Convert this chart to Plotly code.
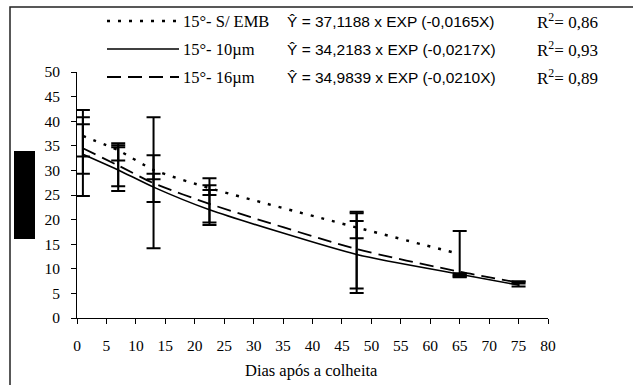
import plotly.graph_objects as go

# ---------------- data ----------------
labels = ["15°- S/ EMB", "15°- 10µm", "15°- 16µm"]
equations = ["Ŷ = 37,1188 x EXP (-0,0165X)",
             "Ŷ = 34,2183 x EXP (-0,0217X)",
             "Ŷ = 34,9839 x EXP (-0,0210X)"]
r2_values = ["0,86", "0,93", "0,89"]

# observed means with error bars
days_semb = [1, 7, 13, 22.5, 47.5, 65]
mean_semb = [36.8, 33.35, 28.75, 26.7, 17.95, 13.05]
err_semb = [4.0, 1.35, 0.55, 1.7, 1.75, 4.65]

days_10 = [1, 7, 13, 22.5, 47.5, 65, 75]
mean_10 = [33.55, 30.45, 27.5, 22.45, 13.35, 8.5, 6.9]
err_10 = [8.75, 4.65, 13.3, 3.55, 8.25, 0.2, 0.5]

days_16 = [1, 7, 13, 22.5, 47.5, 65, 75]
mean_16 = [34.35, 31.15, 28.35, 23.2, 13.65, 8.9, 7.2]
err_16 = [5.05, 4.35, 4.75, 3.8, 7.65, 0.2, 0.2]

# fitted curves
fit_days_semb = [1, 7, 13, 22.5, 47.5, 64]
fit_semb = [37.0, 34.1, 30.1, 26.4, 18.4, 13.3]
fit_days_10 = [1, 7, 13, 22.5, 47.5, 65, 75]
fit_10 = [33.3, 30.1, 26.6, 22.0, 12.9, 8.9, 6.7]
fit_days_16 = [1, 7, 13, 22.5, 47.5, 65, 75]
fit_16 = [34.5, 31.0, 27.4, 23.2, 14.0, 9.4, 7.2]

x_ticks = list(range(0, 81, 5))
y_ticks = list(range(0, 51, 5))
x_title = "Dias após a colheita"

# ---------------- layout helpers ----------------
W, H = 633, 385
L, R, T, B = 77, 548, 72, 318


def px(x):
    return (x - L) / (R - L)


def py(y):
    return (B - y) / (B - T)


SERIF = "Liberation Serif, Times New Roman, serif"
SANS = "Liberation Sans, Arial, sans-serif"
dashes = ["3px,8px", "solid", "14px,7px"]
widths = [2.4, 1.6, 1.8]

fig = go.Figure()

# error bars
for xs, ms, es in [(days_semb, mean_semb, err_semb),
                   (days_10, mean_10, err_10),
                   (days_16, mean_16, err_16)]:
    fig.add_trace(go.Scatter(
        x=xs, y=ms, mode="markers",
        marker=dict(size=1, opacity=0),
        error_y=dict(type="data", array=es, visible=True,
                     color="black", thickness=2, width=7),
        showlegend=False, hoverinfo="skip"))

# fitted lines
for xs, ys, d, w in [(fit_days_semb, fit_semb, dashes[0], widths[0]),
                     (fit_days_10, fit_10, dashes[1], widths[1]),
                     (fit_days_16, fit_16, dashes[2], widths[2])]:
    fig.add_trace(go.Scatter(
        x=xs, y=ys, mode="lines",
        line=dict(color="black", width=w, dash=d, shape="spline", smoothing=0.6),
        showlegend=False, hoverinfo="skip"))

shapes = []
annotations = []

# outer frame
shapes.append(dict(type="rect", xref="paper", yref="paper",
                   x0=px(10), x1=px(660), y0=py(400), y1=py(7),
                   line=dict(color="#222", width=1.5), fillcolor="rgba(0,0,0,0)"))
# black box (redacted y title)
shapes.append(dict(type="rect", xref="paper", yref="paper",
                   x0=px(14), x1=px(35), y0=py(239), y1=py(151),
                   line=dict(width=0), fillcolor="black"))

rows = [21, 49, 77]
for i in range(3):
    shapes.append(dict(type="line", xref="paper", yref="paper",
                       x0=px(107), x1=px(179), y0=py(rows[i]), y1=py(rows[i]),
                       line=dict(color="black", width=widths[i], dash=dashes[i])))
    annotations.append(dict(xref="paper", yref="paper", x=px(181), y=py(rows[i]),
                            xanchor="left", yanchor="middle", showarrow=False,
                            text=labels[i], font=dict(family=SERIF, size=16.5, color="black")))
    annotations.append(dict(xref="paper", yref="paper", x=px(285), y=py(rows[i]),
                            xanchor="left", yanchor="middle", showarrow=False,
                            text=equations[i], font=dict(family=SANS, size=15.5, color="black")))
    annotations.append(dict(xref="paper", yref="paper", x=px(535), y=py(rows[i]),
                            xanchor="left", yanchor="middle", showarrow=False,
                            text="R<sup>2</sup>= " + r2_values[i],
                            font=dict(family=SERIF, size=17, color="black")))

annotations.append(dict(xref="paper", yref="paper", x=px(311), y=py(370),
                        xanchor="center", yanchor="middle", showarrow=False,
                        text=x_title,
                        font=dict(family=SERIF, size=16.5, color="black")))

fig.update_layout(
    width=W, height=H,
    margin=dict(l=L, r=W - R, t=T, b=H - B),
    paper_bgcolor="white", plot_bgcolor="white",
    shapes=shapes, annotations=annotations,
    xaxis=dict(range=[0, 80], tickvals=x_ticks, ticktext=[str(v) for v in x_ticks],
               showgrid=False, zeroline=False, showline=True, linecolor="black",
               linewidth=1, ticks="outside", ticklen=5, tickcolor="black",
               ticklabelstandoff=8,
               tickfont=dict(family=SERIF, size=15.5, color="black")),
    yaxis=dict(range=[0, 50], tickvals=y_ticks, ticktext=[str(v) for v in y_ticks],
               showgrid=False, zeroline=False, showline=True, linecolor="black",
               linewidth=1, ticks="outside", ticklen=5, tickcolor="black",
               ticklabelstandoff=8,
               tickfont=dict(family=SERIF, size=15.5, color="black")),
)

fig.write_html("out.html")
